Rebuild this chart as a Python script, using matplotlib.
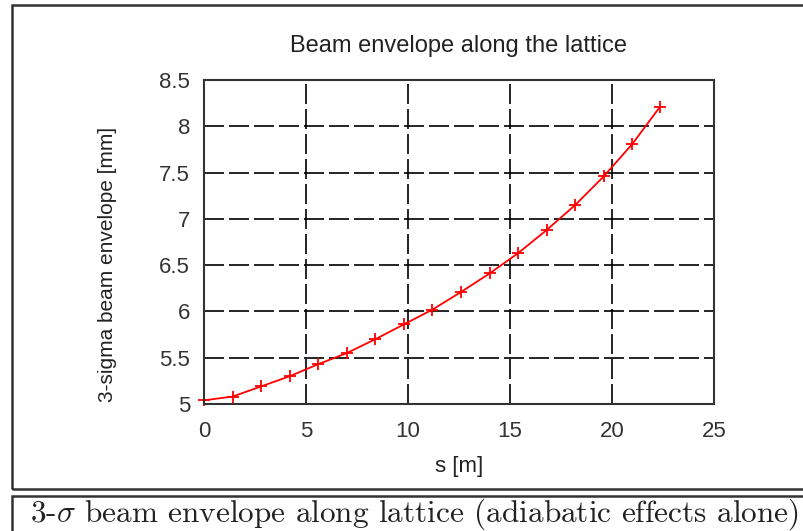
import matplotlib
matplotlib.use('Agg')
import matplotlib.pyplot as plt
from matplotlib.patches import Rectangle

# data
s_m = [0.0, 1.4, 2.8, 4.2, 5.6, 7.0, 8.4, 9.8, 11.2, 12.6, 14.0, 15.4, 16.8, 18.2, 19.6, 21.0, 22.35]
env_mm = [5.04, 5.08, 5.19, 5.30, 5.43, 5.55, 5.70, 5.86, 6.02, 6.21, 6.41, 6.63, 6.88, 7.15, 7.46, 7.81, 8.21]
xticks = [0, 5, 10, 15, 20, 25]
yticks = [5, 5.5, 6, 6.5, 7, 7.5, 8, 8.5]
ytick_labels = ['5', '5.5', '6', '6.5', '7', '7.5', '8', '8.5']

plt.rcParams['font.family'] = ['Liberation Sans', 'DejaVu Sans']
plt.rcParams['mathtext.fontset'] = 'cm'

W, H = 804, 531
fig = plt.figure(figsize=(W / 100, H / 100), dpi=100)

# plot area
ax = fig.add_axes([204 / W, 1 - 404 / H, 510 / W, 324 / H])
ax.plot(s_m, env_mm, color='#ff0000', linewidth=1.3, marker='+',
        markersize=8, markeredgewidth=1.3, clip_on=False)
ax.set_xlim(0, 25)
ax.set_ylim(5, 8.5)
ax.set_xticks(xticks)
ax.set_yticks(yticks)
ax.set_yticklabels(ytick_labels)
ax.tick_params(length=0, labelsize=16, colors='#333333')
ax.tick_params(axis='y', pad=10)
ax.tick_params(axis='x', pad=12)
ax.grid(True, color='black', linestyle=(0, (12, 3)), linewidth=1.2)
ax.set_axisbelow(True)
for sp in ax.spines.values():
    sp.set_color('#333333')
    sp.set_linewidth(1.5)

ax.set_title('Beam envelope along the lattice', fontsize=17, pad=20, color='#222222')
ax.set_xlabel('s [m]', fontsize=16, labelpad=10, color='#222222')
ax.set_ylabel('3-sigma beam envelope [mm]', fontsize=15, color='#222222', va='center')
ax.yaxis.set_label_coords(-0.19, 0.43)

# frame around figure and caption box
fig.patches.append(Rectangle((12 / W, 1 - 489 / H), 1.0, 484 / H, transform=fig.transFigure,
                             fill=False, edgecolor='#333333', linewidth=1.8, clip_on=False))
fig.patches.append(Rectangle((12 / W, -0.1), 1.0, 0.1 + 1 - 496 / H, transform=fig.transFigure,
                             fill=False, edgecolor='#333333', linewidth=1.8, clip_on=False))

fig.text(30 / W, 1 - 522 / H, r'3-$\sigma$ beam envelope along lattice (adiabatic effects alone)',
         fontfamily='cmr10', fontsize=22.5, color='#222222', ha='left', va='baseline')

fig.savefig('out.png', dpi=100)
